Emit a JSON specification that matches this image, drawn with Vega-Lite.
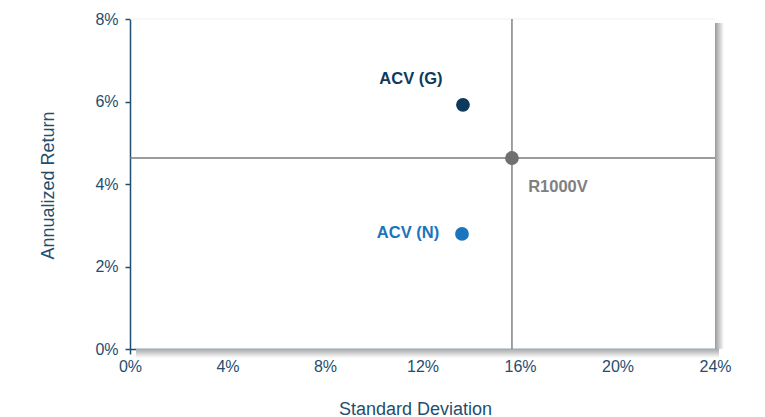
{
  "$schema": "https://vega.github.io/schema/vega-lite/v6.json",
  "width": 585,
  "height": 330,
  "autosize": {"type": "none"},
  "padding": {"left": 130, "top": 19, "right": 50, "bottom": 68},
  "background": "white",
  "config": {
    "view": {"stroke": null},
    "font": "Liberation Sans",
    "axis": {
      "domainColor": "#1f4e6e",
      "tickColor": "#1f4e6e",
      "labelColor": "#1f4e6e",
      "titleColor": "#1f4e6e",
      "labelFont": "Liberation Sans",
      "titleFont": "Liberation Sans",
      "labelFontSize": 16,
      "titleFontSize": 18,
      "titleFontWeight": "normal",
      "labelFlush": false,
      "labelOverlap": false,
      "grid": false,
      "tickSize": 5,
      "domainWidth": 1.5,
      "tickWidth": 1.5
    }
  },
  "data": {
    "values": [
      {"name": "ACV (G)", "sd": 13.66, "ret": 5.92},
      {"name": "ACV (N)", "sd": 13.62, "ret": 2.79},
      {"name": "R1000V", "sd": 15.67, "ret": 4.63}
    ]
  },
  "layer": [
    {
      "data": {"values": [{}]},
      "mark": {"type": "rect", "fill": {"gradient": "linear", "x1": 0, "y1": 0, "x2": 1, "y2": 0, "stops": [{"offset": 0, "color": "#9a9a9a"}, {"offset": 1, "color": "#ffffff"}]}, "x2Offset": 9, "yOffset": 4},
      "encoding": {
        "x": {"datum": 24, "type": "quantitative", "scale": {"domain": [0, 24]}},
        "x2": {"datum": 24},
        "y": {"datum": 8, "type": "quantitative", "scale": {"domain": [0, 8]}},
        "y2": {"datum": 0}
      }
    },
    {
      "data": {"values": [{}]},
      "mark": {"type": "rect", "fill": {"gradient": "linear", "x1": 0, "y1": 0, "x2": 0, "y2": 1, "stops": [{"offset": 0, "color": "#a8a8a8"}, {"offset": 1, "color": "#ffffff"}]}, "y2Offset": 9, "xOffset": 6, "x2Offset": 4},
      "encoding": {
        "x": {"datum": 0, "type": "quantitative"},
        "x2": {"datum": 24},
        "y": {"datum": 0, "type": "quantitative"},
        "y2": {"datum": 0}
      }
    },
    {
      "data": {"values": [{}]},
      "mark": {"type": "rule", "color": "#f0f0f0", "strokeWidth": 1},
      "encoding": {
        "x": {"datum": 0, "type": "quantitative"},
        "x2": {"datum": 24},
        "y": {"datum": 8, "type": "quantitative"}
      }
    },
    {
      "transform": [{"filter": "datum.name === 'R1000V'"}],
      "mark": {"type": "rule", "color": "#7a7a7a", "strokeWidth": 1.6},
      "encoding": {"y": {"field": "ret", "type": "quantitative"}}
    },
    {
      "transform": [{"filter": "datum.name === 'R1000V'"}],
      "mark": {"type": "rule", "color": "#8a8a8a", "strokeWidth": 1.6},
      "encoding": {"x": {"field": "sd", "type": "quantitative"}}
    },
    {
      "mark": {"type": "point", "filled": true, "opacity": 1, "size": 190},
      "encoding": {
        "x": {
          "field": "sd", "type": "quantitative",
          "scale": {"domain": [0, 24], "nice": false, "zero": true},
          "axis": {"values": [0, 4, 8, 12, 16, 20, 24], "labelExpr": "datum.value + '%'", "title": "Standard Deviation", "labelPadding": 4, "titleY": 60, "titleX": 285, "titleBaseline": "middle"}
        },
        "y": {
          "field": "ret", "type": "quantitative",
          "scale": {"domain": [0, 8], "nice": false},
          "axis": {"values": [0, 2, 4, 6, 8], "labelExpr": "datum.value + '%'", "title": "Annualized Return", "labelPadding": 7, "titleX": -82, "titleY": 166, "titleBaseline": "middle"}
        },
        "color": {
          "field": "name", "type": "nominal",
          "scale": {"domain": ["ACV (G)", "ACV (N)", "R1000V"], "range": ["#0d3a5c", "#1a75bc", "#707070"]},
          "legend": null
        }
      }
    },
    {
      "transform": [{"filter": "datum.name === 'ACV (G)'"}],
      "mark": {"type": "text", "fontWeight": "bold", "fontSize": 16.5, "color": "#0d3a5c", "dx": -52, "dy": -26, "align": "center", "baseline": "middle"},
      "encoding": {"x": {"field": "sd", "type": "quantitative"}, "y": {"field": "ret", "type": "quantitative"}, "text": {"field": "name"}}
    },
    {
      "transform": [{"filter": "datum.name === 'ACV (N)'"}],
      "mark": {"type": "text", "fontWeight": "bold", "fontSize": 16.5, "color": "#1a75bc", "dx": -54, "dy": -1, "align": "center", "baseline": "middle"},
      "encoding": {"x": {"field": "sd", "type": "quantitative"}, "y": {"field": "ret", "type": "quantitative"}, "text": {"field": "name"}}
    },
    {
      "transform": [{"filter": "datum.name === 'R1000V'"}],
      "mark": {"type": "text", "fontWeight": "bold", "fontSize": 16.5, "color": "#808080", "dx": 46, "dy": 29, "align": "center", "baseline": "middle"},
      "encoding": {"x": {"field": "sd", "type": "quantitative"}, "y": {"field": "ret", "type": "quantitative"}, "text": {"field": "name"}}
    }
  ]
}
